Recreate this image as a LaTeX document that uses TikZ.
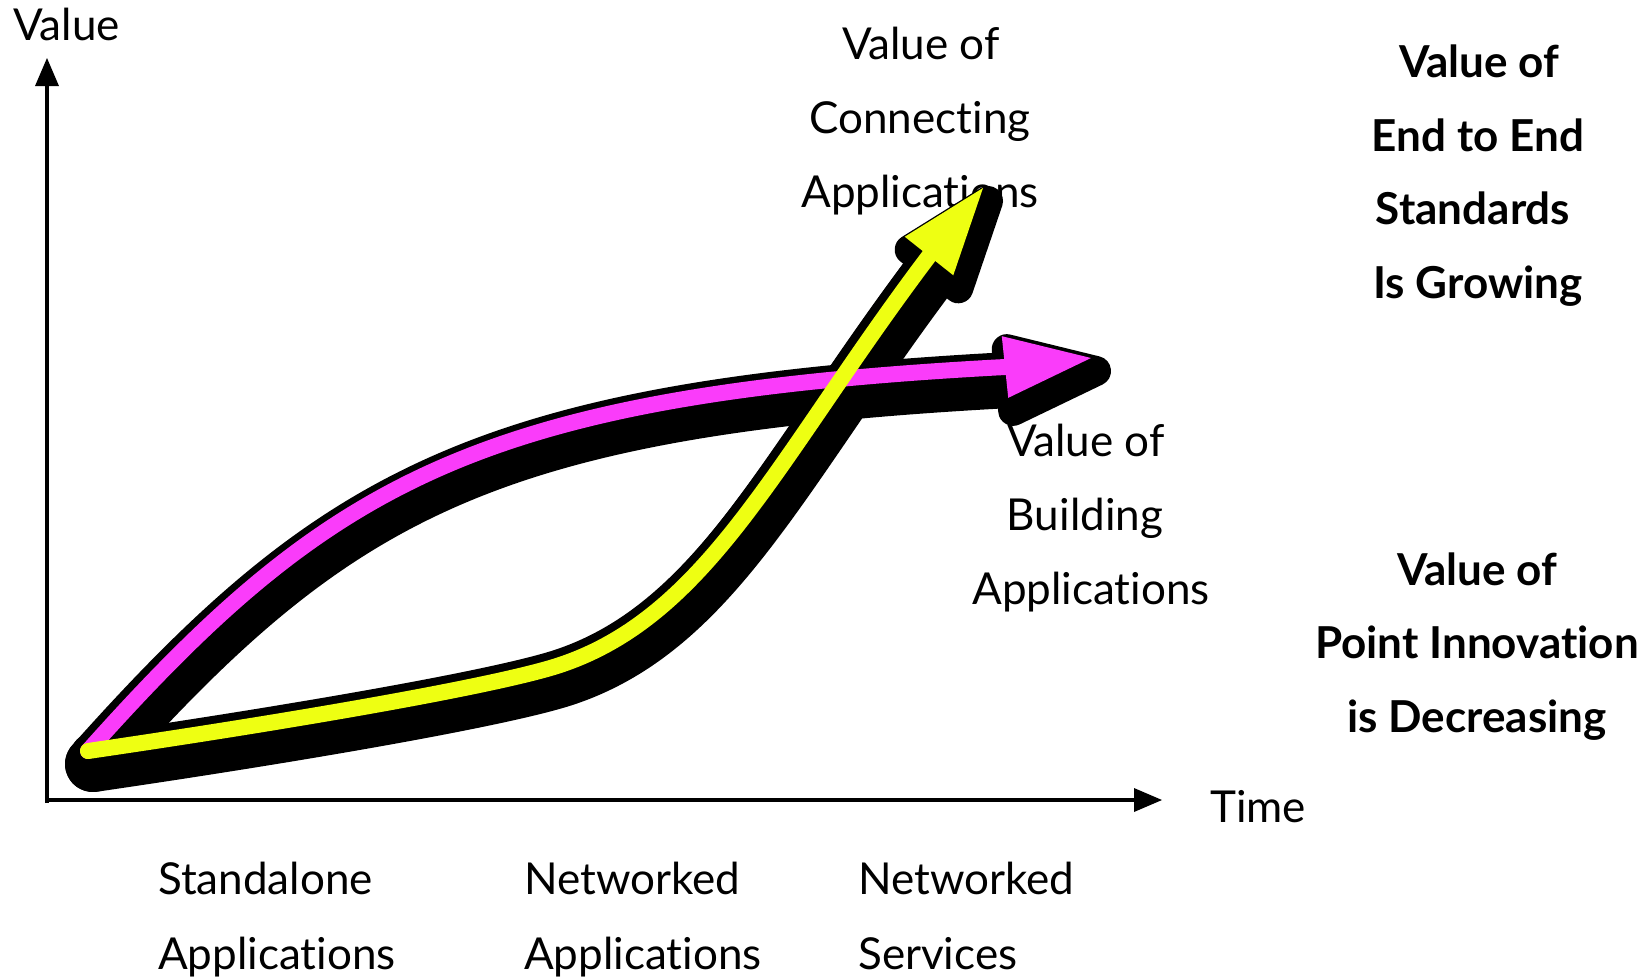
\documentclass[tikz,border=0pt]{standalone}
\usepackage{fontspec}
\setmainfont{Lato}[Ligatures={NoCommon,NoRare,NoContextual}]
\usetikzlibrary{calc}
\definecolor{mag}{RGB}{250,60,250}
\definecolor{yel}{RGB}{238,255,18}
\begin{document}
\begin{tikzpicture}[x=1pt,y=-1pt,
  lbl/.style={inner sep=0pt, font=\fontsize{44}{52}\selectfont},
  blbl/.style={inner sep=0pt, font=\fontsize{44}{52}\selectfont\bfseries},
  axisline/.style={line width=4pt},
  shadowline/.style={draw=black, line width=56pt, line cap=round, line join=round},
  outline/.style={draw=black, line width=32pt, line cap=round, line join=round},
  shadowhead/.style={fill=black, draw=black, line width=30pt, line join=round},
  magline/.style={draw=mag, line width=16pt, line cap=round},
  yelline/.style={draw=yel, line width=16pt, line cap=round}]
\useasboundingbox (0,0) rectangle (1651,978);

% ---- texts ----
\node[lbl, anchor=base west] (yl) at (13,40) {Value};
\node[lbl, anchor=base] (c1) at (921,59) {Value of};
\node[lbl, anchor=base] (c2) at (920,133) {Connecting};
\node[lbl, anchor=base] (c3) at (920,207) {Applications};
\node[lbl, anchor=base] (b1) at (1086,456) {Value of};
\node[lbl, anchor=base] (b2) at (1085,530) {Building};
\node[lbl, anchor=base] (b3) at (1091,604) {Applications};
\node[blbl, anchor=base] (e1) at (1479,77) {Value of};
\node[blbl, anchor=base] (e2) at (1478,151) {End to End};
\node[blbl, anchor=base] (e3) at (1473,224) {Standards};
\node[blbl, anchor=base] (e4) at (1478,298) {Is Growing};
\node[blbl, anchor=base] (p1) at (1477,585) {Value of};
\node[blbl, anchor=base] (p2) at (1477,658) {Point Innovation};
\node[blbl, anchor=base] (p3) at (1477,732) {is Decreasing};
\node[lbl, anchor=base west] (s1) at (158,894) {Standalone};
\node[lbl, anchor=base west] (s2) at (158,969) {Applications};
\node[lbl, anchor=base west] (n1) at (524,894) {Networked};
\node[lbl, anchor=base west] (n2) at (524,969) {Applications};
\node[lbl, anchor=base west] (v1) at (858,894) {Networked};
\node[lbl, anchor=base west] (v2) at (858,969) {Services};
\node[lbl, anchor=base west] (tl) at (1210,822) {Time};

% ---- axes ----
\coordinate (Ybot) at (47,803);
\coordinate (Yend) at (47,84);
\coordinate (Ytip) at (47,58);
\coordinate (Xbeg) at (45,800);
\coordinate (Xend) at (1136,800);
\coordinate (Xtip) at (1162,800);
\draw[axisline] (Ybot) -- (Yend);
\fill (Ytip) -- ($(Ytip)+(-12,28)$) -- ($(Ytip)+(12,28)$) -- cycle;
\draw[axisline] (Xbeg) -- (Xend);
\fill (Xtip) -- ($(Xtip)+(-28,-12)$) -- ($(Xtip)+(-28,12)$) -- cycle;

% ---- curve geometry ----
\coordinate (S) at (88,751);
\coordinate (M1) at (330,480);
\coordinate (M2) at (480,395);
\coordinate (MB) at (1005,367);
\coordinate (MT) at (1091,358);
\coordinate (Y1) at (300,720);
\coordinate (Y2) at (500,685);
\coordinate (YM) at (560,665);
\coordinate (Y3) at (710,615);
\coordinate (Y4) at (778,456);
\coordinate (YB) at (929,256);
\coordinate (YT) at (983,188);

% ---- black shadows ----
\draw[outline] (S) .. controls (Y1) and (Y2) .. (YM) .. controls (Y3) and (Y4) .. (YB);
\begin{scope}[transform canvas={xshift=5pt,yshift=-13pt}]
\draw[shadowline] (S) .. controls (M1) and (M2) .. (MB);
\draw[shadowline] (S) .. controls (Y1) and (Y2) .. (YM) .. controls (Y3) and (Y4) .. (YB);
\filldraw[shadowhead] (MT) -- ($(MB)!31pt!90:(MT)$) -- ($(MB)!31pt!-90:(MT)$) -- cycle;
\filldraw[shadowhead] (YT) -- ($(YB)!31pt!90:(YT)$) -- ($(YB)!31pt!-90:(YT)$) -- cycle;
\end{scope}

% ---- coloured arrows ----
\draw[magline] (S) .. controls (M1) and (M2) .. (MB);
\fill[mag] (MT) -- ($(MB)!31pt!90:(MT)$) -- ($(MB)!31pt!-90:(MT)$) -- cycle;
\draw[yelline] (S) .. controls (Y1) and (Y2) .. (YM) .. controls (Y3) and (Y4) .. (YB);
\fill[yel] (YT) -- ($(YB)!31pt!90:(YT)$) -- ($(YB)!31pt!-90:(YT)$) -- cycle;
\end{tikzpicture}
\end{document}
